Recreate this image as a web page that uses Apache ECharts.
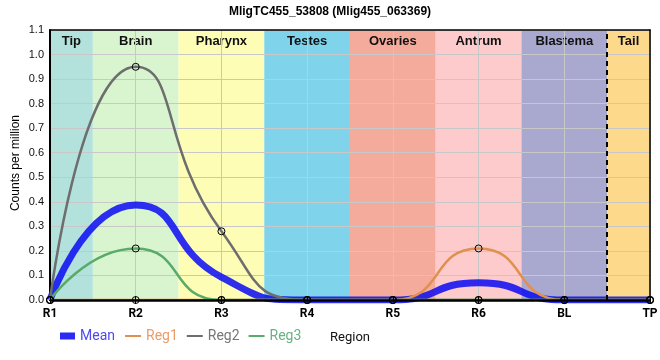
<!DOCTYPE html>
<html>
<head>
<meta charset="utf-8">
<script src="https://cdn.jsdelivr.net/npm/echarts@6/dist/echarts.min.js"></script>
<style>html,body{margin:0;padding:0;background:#fff}#c{width:660px;height:360px}</style>
</head>
<body>
<div id="c"></div>
<script>
const categories = ['R1', 'R2', 'R3', 'R4', 'R5', 'R6', 'BL', 'TP'];
const meanVals = [0, 0.387, 0.093, 0, 0, 0.07, 0, 0];
const reg1Vals = [0, 0, 0, 0, 0, 0.21, 0, 0];
const reg2Vals = [0, 0.95, 0.28, 0, 0, 0, 0, 0];
const reg3Vals = [0, 0.21, 0, 0, 0, 0, 0, 0];
const bandNames = ['Tip', 'Brain', 'Pharynx', 'Testes', 'Ovaries', 'Antrum', 'Blastema', 'Tail'];
const bandEdges = [0, 0.5, 1.5, 2.5, 3.5, 4.5, 5.5, 6.5, 7];
const bandColors = ['#b3e2dd', '#d8f5d0', '#fdfdb6', '#7fd4eb', '#f4ab9c', '#fdcbcb', '#a9a8cf', '#fdda8b'];
const tailSplit = 6.5;
const yMax = 1.1;
const yStep = 0.1;
const yName = 'Counts per million';

const seriesNames = ['Mean', 'Reg1', 'Reg2', 'Reg3'];
const seriesColors = ['rgba(10,10,245,0.85)', '#e0904f', '#6e6e6e', '#5aaa6a'];
const legendColors = ['#4b4bf0', '#eb9c68', '#777777', '#68b283'];
const SMOOTH = 0.57;

const toPts = arr => arr.map((v, i) => [i, v]);

const chart = echarts.init(document.getElementById('c'));

const bandData = bandNames.map((n, i) => [
  { name: n, xAxis: bandEdges[i], itemStyle: { color: bandColors[i] } },
  { xAxis: bandEdges[i + 1] }
]);

const regSeries = [reg1Vals, reg2Vals, reg3Vals].map((vals, k) => ({
  name: seriesNames[k + 1],
  type: 'line',
  data: toPts(vals),
  smooth: SMOOTH,
  z: 3,
  symbol: 'circle',
  symbolSize: 7,
  showSymbol: true,
  itemStyle: { color: 'rgba(0,0,0,0)', borderColor: '#000', borderWidth: 1 },
  lineStyle: { color: seriesColors[k + 1], width: 2.5 },
  emphasis: { disabled: true },
  animation: false
}));

regSeries[2].markLine = {
  silent: true,
  symbol: ['none', 'none'],
  z: 5,
  label: { show: false },
  animation: false,
  data: [
    { xAxis: tailSplit, lineStyle: { color: '#000', width: 2, type: [5, 4] } },
    { yAxis: 0, lineStyle: { color: '#000', width: 2.5, type: 'solid' } }
  ]
};

const option = {
  animation: false,
  title: {
    text: 'MligTC455_53808 (Mlig455_063369)',
    left: 'center',
    top: 1,
    textStyle: { fontSize: 12, fontWeight: 'bold', color: '#000', fontFamily: 'Liberation Sans, Arial, sans-serif' }
  },
  graphic: [{
    type: 'text',
    left: 10, top: 115,
    rotation: Math.PI / 2,
    style: { text: yName, fontSize: 12, fill: '#000', fontFamily: 'Liberation Sans, Arial, sans-serif' }
  }],
  grid: { left: 50, right: 10, top: 30, bottom: 60, outerBoundsMode: 'none', containLabel: false },
  legend: [
    {
      left: 55, top: 324,
      itemWidth: 15, itemHeight: 7, itemGap: 9,
      icon: 'rect',
      textStyle: { fontSize: 14, fontFamily: 'Roboto, sans-serif' },
      data: [{ name: 'Mean', itemStyle: { color: '#2a2af2', borderWidth: 0 }, textStyle: { color: legendColors[0] } }]
    },
    {
      left: 120, top: 324,
      itemWidth: 16, itemHeight: 2, itemGap: 9,
      icon: 'rect',
      textStyle: { fontSize: 14, fontFamily: 'Roboto, sans-serif' },
      data: [1, 2, 3].map(k => ({ name: seriesNames[k], itemStyle: { color: seriesColors[k], borderWidth: 0 }, textStyle: { color: legendColors[k] } }))
    }
  ],
  xAxis: [
    {
      type: 'value', min: 0, max: categories.length - 1, interval: 1,
      z: 2,
      name: 'Region', nameLocation: 'middle', nameGap: 31,
      nameTextStyle: { fontSize: 13, color: '#111', fontFamily: 'Roboto, sans-serif' },
      axisLine: { show: true, lineStyle: { color: '#000', width: 2 } },
      axisTick: { show: true, length: 4, lineStyle: { color: '#000' } },
      axisLabel: { formatter: v => categories[v] || '', fontSize: 12, color: '#000', fontWeight: 'bold', margin: 8, fontFamily: 'Roboto, sans-serif' },
      splitLine: { show: true, lineStyle: { color: '#c8c8c8', width: 1 } }
    },
    {
      type: 'value', position: 'top', min: 0, max: categories.length - 1,
      z: 2,
      axisLine: { show: true, onZero: false, lineStyle: { color: '#000', width: 1.5 } },
      axisTick: { show: false }, axisLabel: { show: false }, splitLine: { show: false }
    },
    {
      type: 'value', position: 'bottom', min: 0, max: categories.length - 1, interval: 1,
      z: 6,
      axisLine: { show: false, onZero: false },
      axisTick: { show: true, inside: true, length: 4, lineStyle: { color: '#000' } },
      axisLabel: { show: false }, splitLine: { show: false }
    }
  ],
  yAxis: [
    {
      type: 'value', min: 0, max: yMax, interval: yStep,
      z: 2,
      axisLine: { show: true, lineStyle: { color: '#000', width: 2 } },
      axisTick: { show: false },
      axisLabel: { formatter: v => v.toFixed(1), fontSize: 11, color: '#111', margin: 6, fontFamily: 'Liberation Sans, Arial, sans-serif' },
      splitLine: { show: true, lineStyle: { color: '#c8c8c8', width: 1 } }
    },
    {
      type: 'value', position: 'right', min: 0, max: yMax,
      z: 2,
      axisLine: { show: true, onZero: false, lineStyle: { color: '#000', width: 1.5 } },
      axisTick: { show: false }, axisLabel: { show: false }, splitLine: { show: false }
    }
  ],
  series: [
    {
      name: '__bands',
      type: 'line',
      data: [],
      z: 1,
      silent: true,
      markArea: {
        silent: true,
        z: 1,
        label: {
          show: true, position: 'insideTop', distance: 5, formatter: '{b}',
          fontSize: 13, fontWeight: 'bold', color: '#111', fontFamily: 'Liberation Sans, Arial, sans-serif'
        },
        data: bandData
      }
    },
    {
      name: 'Mean',
      type: 'line',
      data: toPts(meanVals),
      smooth: SMOOTH,
      z: 3,
      showSymbol: false,
      symbol: 'none',
      itemStyle: { color: '#2a2af2' },
      lineStyle: { color: seriesColors[0], width: 7 },
      emphasis: { disabled: true }
    },
    ...regSeries
  ]
};
chart.setOption(option);
</script>
</body>
</html>
